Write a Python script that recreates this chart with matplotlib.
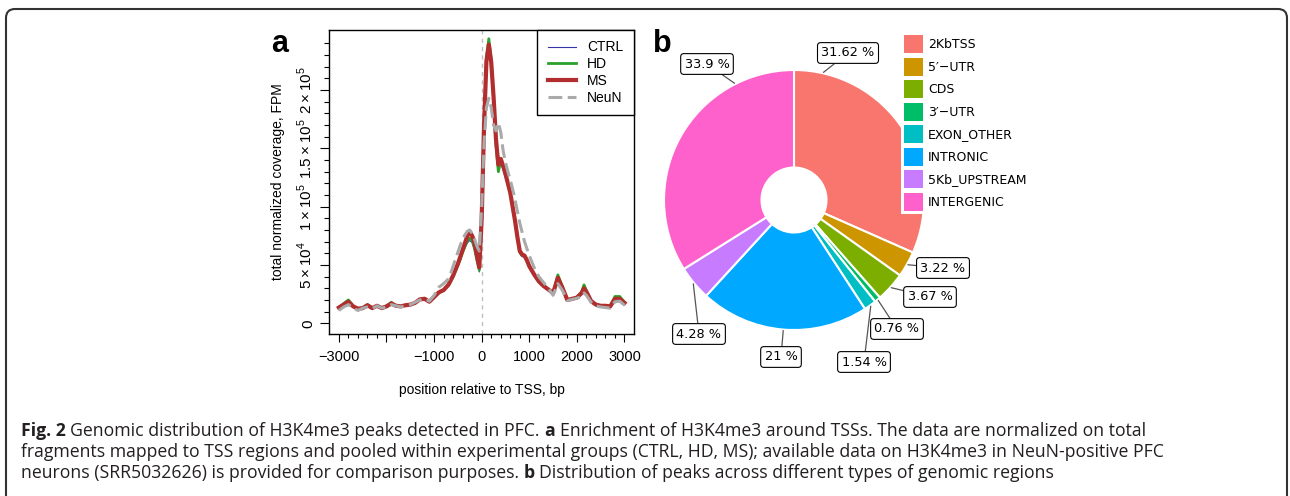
import matplotlib
matplotlib.use("Agg")
import numpy as np
import matplotlib.pyplot as plt
from matplotlib.patches import Patch, FancyBboxPatch
from matplotlib.transforms import IdentityTransform

plt.rcParams['mathtext.fontset'] = 'custom'
plt.rcParams['mathtext.rm'] = 'Liberation Sans'

# ---- panel a: coverage around TSS (values in 1e4 FPM) ----
pos = [-3000, -2900, -2800, -2700, -2600, -2500, -2400, -2300, -2200, -2100, -2000,
       -1900, -1800, -1700, -1600, -1500, -1400, -1300, -1200, -1100, -1000, -900, -800, -700,
       -650, -600, -550, -500, -450, -400, -350, -300, -250, -200, -150, -100, -50, 0,
       50, 100, 150, 200, 250, 300, 350, 400, 450, 500, 550, 600, 650, 700, 750, 800,
       850, 900, 950, 1000,
       1100, 1200, 1300, 1400, 1500, 1600, 1700, 1800, 1900, 2000, 2100, 2150, 2200,
       2300, 2400, 2500, 2600, 2700, 2800, 2900, 3000]

ctrl = [1.3, 1.6, 1.85, 1.45, 1.25, 1.3, 1.5, 1.3, 1.45, 1.3, 1.45, 1.7, 1.5, 1.45, 1.5, 1.6,
        1.75, 2.0, 2.1, 1.85, 2.2, 2.6, 2.8, 3.2,
        3.6, 3.9, 4.4, 4.9, 5.4, 6.0, 6.5, 6.9, 7.1, 6.9, 6.3, 5.3, 4.4, 9.0, 16.8, 22.3,
        24.0, 22.4, 19.3, 15.6, 13.3, 13.9, 13.2, 12.5, 11.8, 11.0, 9.9, 8.7, 7.3, 6.0,
        5.7, 5.7, 5.3, 4.8,
        4.1, 3.5, 3.1, 2.8, 2.5, 3.8, 2.9, 2.0, 2.05, 2.15, 2.5, 2.9, 2.6, 1.85, 1.55,
        1.45, 1.45, 1.4, 2.0, 2.05, 1.7]
hd = [1.35, 1.7, 2.0, 1.5, 1.25, 1.35, 1.6, 1.3, 1.5, 1.35, 1.45, 1.8, 1.5, 1.45, 1.55, 1.6,
      1.75, 2.05, 2.15, 1.85, 2.25, 2.65, 2.85, 3.25,
      3.6, 4.0, 4.5, 5.0, 5.5, 6.1, 6.6, 7.1, 7.3, 7.1, 6.4, 5.4, 4.55, 9.0, 17.0, 22.8,
      24.4, 22.6, 19.2, 15.3, 13.0, 13.9, 13.4, 12.7, 12.0, 11.2, 10.0, 8.8, 7.4, 6.1,
      5.8, 5.8, 5.4, 4.9,
      4.2, 3.6, 3.2, 2.9, 2.6, 4.15, 3.1, 2.0, 2.1, 2.2, 2.7, 3.3, 2.8, 1.9, 1.6,
      1.5, 1.5, 1.45, 2.3, 2.3, 1.8]
ms = [1.35, 1.6, 1.85, 1.45, 1.25, 1.3, 1.55, 1.3, 1.5, 1.3, 1.45, 1.7, 1.5, 1.45, 1.55, 1.6,
      1.75, 2.05, 2.1, 1.85, 2.25, 2.65, 2.85, 3.3,
      3.7, 4.1, 4.6, 5.1, 5.7, 6.3, 6.9, 7.5, 7.8, 7.5, 6.9, 5.8, 4.8, 9.0, 17.0, 22.5,
      23.9, 22.4, 19.4, 15.8, 13.6, 14.1, 13.5, 12.8, 12.0, 11.2, 10.0, 8.8, 7.4, 6.2,
      5.9, 5.8, 5.4, 4.9,
      4.2, 3.6, 3.2, 2.9, 2.6, 3.9, 3.0, 2.0, 2.1, 2.2, 2.6, 3.0, 2.7, 1.9, 1.6,
      1.5, 1.5, 1.45, 2.1, 2.1, 1.75]
neun = [1.1, 1.4, 1.6, 1.3, 1.1, 1.3, 1.4, 1.25, 1.5, 1.3, 1.4, 1.6, 1.5, 1.4, 1.5, 1.6,
        1.8, 2.0, 2.1, 1.9, 2.4, 3.1, 3.4, 3.8,
        4.3, 4.9, 5.5, 6.1, 6.7, 7.2, 7.6, 7.9, 8.0, 7.7, 7.2, 6.6, 6.2, 10.0, 15.5, 18.5,
        19.3, 18.5, 17.0, 16.5, 17.2, 16.4, 14.8, 13.8, 13.0, 12.3, 11.5, 10.6, 9.6, 8.6,
        7.8, 7.0, 6.4, 5.8,
        4.8, 4.0, 3.5, 3.0, 2.4, 3.4, 2.8, 1.95, 2.05, 2.15, 2.3, 2.6, 2.4, 1.8, 1.5,
        1.4, 1.35, 1.3, 1.85, 1.9, 1.55]

# ---- panel b: peak distribution ----
regions = ["2KbTSS", "5\u2032\u2212UTR", "CDS", "3\u2032\u2212UTR", "EXON_OTHER",
           "INTRONIC", "5Kb_UPSTREAM", "INTERGENIC"]
shares = [31.62, 3.22, 3.67, 0.76, 1.54, 21, 4.28, 33.9]
region_colors = ["#F8766D", "#CD9600", "#7CAE00", "#00BE67", "#00BFC4", "#00A9FF",
                 "#C77CFF", "#FF61CC"]

caption = [
    [("Fig. 2", "bold"), ("Genomic distribution of H3K4me3 peaks detected in PFC.", "normal"),
     ("a", "bold"), ("Enrichment of H3K4me3 around TSSs. The data are normalized on total", "normal")],
    [("fragments mapped to TSS regions and pooled within experimental groups (CTRL, HD, MS); "
      "available data on H3K4me3 in NeuN-positive PFC", "normal")],
    [("neurons (SRR5032626) is provided for comparison purposes.", "normal"), ("b", "bold"),
     ("Distribution of peaks across different types of genomic regions", "normal")],
]

W, H = 1290, 496


def fx(px):
    return px / W


def fy(py):
    return 1 - py / H


fig = plt.figure(figsize=(W / 100, H / 100), dpi=100)

# ================= panel a =================
lf = 'Liberation Sans'
ax = fig.add_axes([fx(329), fy(334), fx(634) - fx(329), fy(30) - fy(334)])
x = np.array(pos)
ax.axvline(0, color='#C0C0C0', lw=1.0, dashes=(3, 3), zorder=1)
ax.plot(x, np.array(ctrl) * 1e4, color='#3535A8', lw=0.8, label='CTRL', zorder=2)
ax.plot(x, np.array(hd) * 1e4, color='#2CA02C', lw=2.0, label='HD', zorder=3)
ax.plot(x, np.array(ms) * 1e4, color='#B22E2E', lw=3.0, label='MS', zorder=4)
ax.plot(x, np.array(neun) * 1e4, color='#AAAAAA', lw=2.2, dashes=(4.5, 1.8),
        label='NeuN', zorder=5)

ax.set_xlim(-3208, 3200)
ax.set_ylim(-9180, 251500)
ax.set_xticks([-3000, -2000, -1000, 0, 1000, 2000, 3000])
ax.set_xticklabels(['\u22123000', '', '\u22121000', '0', '1000', '2000', '3000'],
                   family=lf, fontsize=10.5)
ax.set_xticks(np.arange(-3000, 3001, 200), minor=True)
ax.set_yticks([0, 5e4, 1e5, 1.5e5, 2e5])
ax.set_yticklabels(['0', r'$5\times10^{4}$', r'$1\times10^{5}$', r'$1.5\times10^{5}$',
                    r'$2\times10^{5}$'], rotation=90, va='center', fontsize=11, family=lf)
ax.set_yticks(np.arange(0, 240001, 10000), minor=True)
ax.tick_params(axis='x', which='major', length=5.5, width=0.8, pad=6)
ax.tick_params(axis='x', which='minor', length=3, width=0.8)
ax.tick_params(axis='y', which='major', length=6.5, width=0.8, pad=3.5)
ax.tick_params(axis='y', which='minor', length=3.6, width=0.8)
for s in ax.spines.values():
    s.set_linewidth(1.0)

ax.set_xlabel('position relative to TSS, bp', family=lf, fontsize=10, va='center')
ax.xaxis.set_label_coords(0.5, -0.184)
ax.set_ylabel('total normalized coverage, FPM', family=lf, fontsize=10, va='center')
ax.yaxis.set_label_coords(-0.167, 0.5)

leg = ax.legend(loc='upper right', bbox_to_anchor=(1, 1), borderaxespad=0, fancybox=False,
                edgecolor='black', framealpha=1, prop={'family': lf, 'size': 10},
                handlelength=2.0, handletextpad=0.85, labelspacing=0.2, borderpad=0.75)
leg.get_frame().set_linewidth(1.0)

# ================= panel b =================
axp = fig.add_axes([fx(640), fy(380), fx(1040) - fx(640), fy(20) - fy(380)])
cx, cy, r = 794, H - 200, 130
wedges, _ = axp.pie(shares, colors=region_colors, startangle=90, counterclock=False,
                    radius=r, center=(cx, cy),
                    wedgeprops=dict(width=r - 32.5, edgecolor='white', linewidth=1.5))
axp.set_xlim(640, 1040)
axp.set_ylim(H - 380, H - 20)
axp.set_aspect('auto')
axp.axis('off')

handles = [Patch(facecolor=c, edgecolor='none') for c in region_colors]
lg = axp.legend(handles, regions, loc='upper left', bbox_to_anchor=(901, H - 32),
                bbox_transform=axp.transData, frameon=True, facecolor='white',
                edgecolor='none', framealpha=1, fancybox=False,
                prop={'family': 'DejaVu Sans', 'size': 9}, handlelength=1.52,
                handleheight=1.84, labelspacing=0.36, handletextpad=0.4, borderpad=0.25,
                borderaxespad=0)
lg.set_zorder(5)

# label positions (pixels) and leader anchor angles
label_xy = [(848, 53), (943, 268), (930, 297), (897, 329), (864, 362), (781, 357),
            (699, 334), (707, 64)]
anchor_override = {0: 13, 7: 333}
cum = np.cumsum([0] + shares)
for i, v in enumerate(shares):
    mid = (cum[i] + cum[i + 1]) / 2 / 100 * 360
    ang = np.deg2rad(anchor_override.get(i, mid))
    ra = r + 1
    axy = (cx + ra * np.sin(ang), cy + ra * np.cos(ang))
    lx, ly = label_xy[i]
    axp.annotate(f"{v:g} %", xy=axy, xytext=(lx, H - ly), ha='center', va='center',
                 fontsize=9.3, family='DejaVu Sans', zorder=6,
                 bbox=dict(boxstyle='round,pad=0.3,rounding_size=0.25', fc='white',
                           ec='black', lw=0.8),
                 arrowprops=dict(arrowstyle='-', color='#555555', lw=0.9,
                                 shrinkA=0, shrinkB=0))

# panel letters
fig.text(fx(280), fy(52), 'a', fontsize=22, weight='bold', family=lf, ha='center',
         va='baseline')
fig.text(fx(662), fy(52), 'b', fontsize=22, weight='bold', family=lf, ha='center',
         va='baseline')

# ================= caption =================
cf = 'Open Sans'
renderer = fig.canvas.get_renderer()


def text_w(s, weight, size):
    t = fig.text(0, 0, s, family=cf, fontsize=size, weight=weight)
    w = t.get_window_extent(renderer).width
    t.remove()
    return w


def line_w(line, size):
    sp = text_w("x x", "normal", size) - text_w("xx", "normal", size)
    return sum(text_w(s, wt, size) for s, wt in line) + sp * (len(line) - 1)


# size the caption so the first two lines match their widths in the figure on average
cs = 11 * 1130 / ((line_w(caption[0], 11) + line_w(caption[1], 11)) / 2)
space_w = text_w("x x", "normal", cs) - text_w("xx", "normal", cs)
baselines = [436, 457, 478]
for line, base in zip(caption, baselines):
    xp = 21
    for s, weight in line:
        t = fig.text(fx(xp), fy(base), s, family=cf, fontsize=cs, weight=weight,
                     va='baseline', ha='left', color='#231F20')
        xp += t.get_window_extent(renderer).width + space_w

# rounded border
border = FancyBboxPatch((6, -30), 1281, H - 9 + 30, boxstyle='round,pad=0,rounding_size=9',
                        transform=IdentityTransform(), fill=False, ec='#333333', lw=1.5)
fig.add_artist(border)

fig.savefig('out.png', dpi=100)
